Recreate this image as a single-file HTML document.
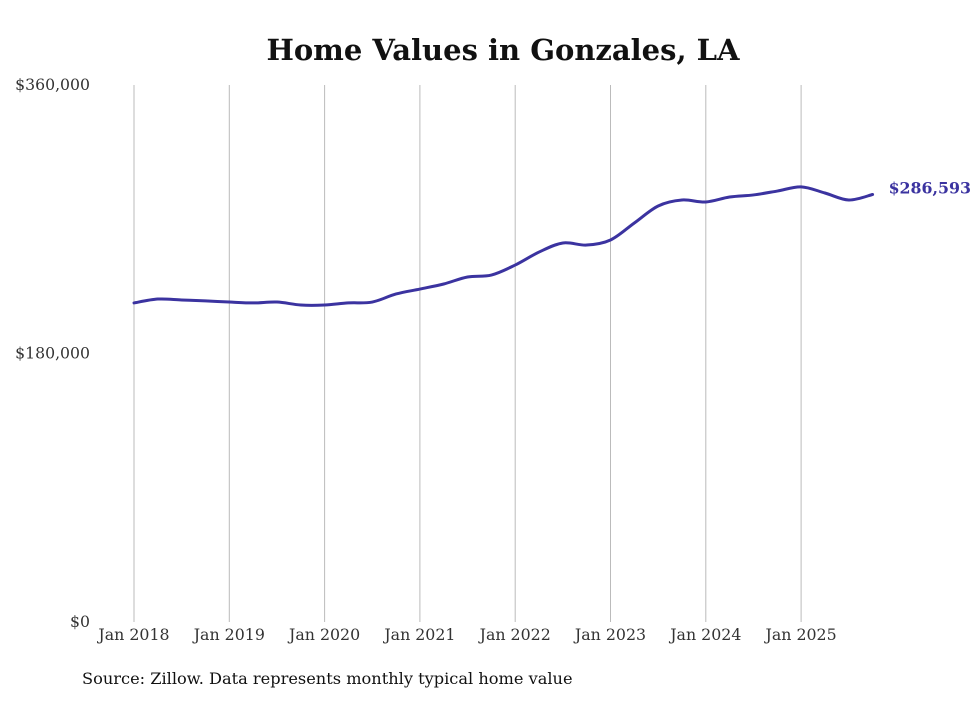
<!DOCTYPE html>
<html><head><meta charset="utf-8"><style>
html,body{margin:0;padding:0;background:#fff;}
svg text{font-family:"DejaVu Serif",serif;}
</style></head><body>
<svg id="chart" width="980" height="699" xmlns="http://www.w3.org/2000/svg">
<text x="503" y="60" text-anchor="middle" font-size="29" font-weight="bold" fill="#111">Home Values in Gonzales, LA</text>
<g id="grid"></g><g id="yaxis"></g><g id="xaxis"></g><g id="series"></g>
<text x="82" y="684" font-size="16.2" fill="#111">Source: Zillow. Data represents monthly typical home value</text>
</svg>
<script>
const yTicks=[0,180000,360000];
const yTickLabels=["$0","$180,000","$360,000"];
const xYears=[2018,2019,2020,2021,2022,2023,2024,2025];
const xTickLabels=["Jan 2018","Jan 2019","Jan 2020","Jan 2021","Jan 2022","Jan 2023","Jan 2024","Jan 2025"];
// quarterly, starting Jan 2018
const startYear=2018;
const values=[213900,216500,215900,215300,214500,213900,214500,212500,212500,213900,214500,219900,223200,226600,231300,232600,239300,248000,254100,252700,256100,267500,278900,282900,281600,284900,286300,288900,291700,287600,282900,286593];
const lastLabel="$286,593";
const NS="http://www.w3.org/2000/svg";
function x(t){return 134+(t-2018)*95.3;}
function y(v){return 622-v*537/360000;}
function mk(tag,attrs,parent){const e=document.createElementNS(NS,tag);for(const k in attrs)e.setAttribute(k,attrs[k]);parent.appendChild(e);return e;}
const grid=document.getElementById('grid'),ya=document.getElementById('yaxis'),xa=document.getElementById('xaxis'),se=document.getElementById('series');
xYears.forEach((yr,i)=>{
  const l=mk('line',{x1:x(yr),x2:x(yr),y1:85,y2:622,stroke:'#bbb','stroke-width':1},grid);
  
  
  const t=mk('text',{x:x(yr),y:640,'text-anchor':'middle','font-size':15.8,fill:'#333'},xa);
  t.textContent=xTickLabels[i];
  
  
});
yTicks.forEach((v,i)=>{
  const t=mk('text',{x:90,y:y(v)+5,'text-anchor':'end','font-size':15.7,fill:'#333'},ya);
  t.textContent=yTickLabels[i];
  
  
});
const pts=values.map((v,i)=>[x(startYear+i*0.25),y(v)]);
let d='M'+pts[0][0]+','+pts[0][1];
for(let i=0;i<pts.length-1;i++){
  const p0=pts[Math.max(0,i-1)],p1=pts[i],p2=pts[i+1],p3=pts[Math.min(pts.length-1,i+2)];
  const c1=[p1[0]+(p2[0]-p0[0])/6,p1[1]+(p2[1]-p0[1])/6];
  const c2=[p2[0]-(p3[0]-p1[0])/6,p2[1]-(p3[1]-p1[1])/6];
  d+=' C'+c1.join(',')+' '+c2.join(',')+' '+p2.join(',');
}
const path=mk('path',{d:d,fill:'none',stroke:'#3b33a0','stroke-width':3,'stroke-linejoin':'round','stroke-linecap':'round'},se);


const last=pts[pts.length-1];
const lb=mk('text',{x:last[0]+16,y:last[1]-1,'font-size':15.8,'font-weight':'bold',fill:'#3b33a0'},se);
lb.textContent=lastLabel;


</script>
</body></html>
